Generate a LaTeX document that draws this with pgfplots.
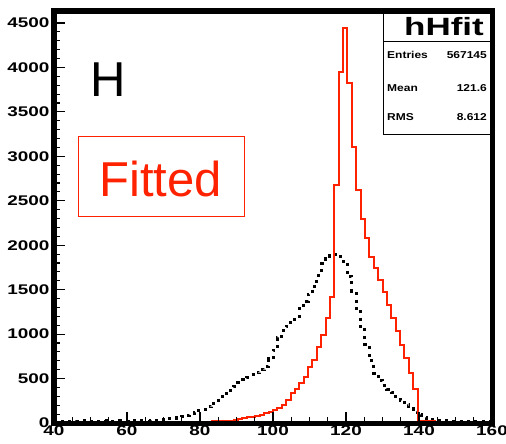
\documentclass[border=0pt]{standalone}
\usepackage{pgfplots}
\pgfplotsset{compat=1.18}
\usepackage{pgfplotstable}
\usepackage{fontspec}
\setmainfont{Liberation Sans}
\newfontfamily\rootfont[FakeStretch=1.35]{Liberation Sans}
\newfontfamily\statfont[FakeStretch=1.2]{Liberation Sans}
\newfontfamily\titlefont[FakeStretch=1.4]{Liberation Sans}
\definecolor{fitred}{RGB}{255,34,0}

% bin left edges (100 bins, 40-160), last row closes the histogram
\pgfplotstableread{
x red black
40.0 10 18
41.2 12 20
42.4 9 22
43.6 11 19
44.8 13 21
46.0 10 20
47.2 12 23
48.4 11 19
49.6 9 22
50.8 12 21
52.0 10 20
53.2 13 22
54.4 11 24
55.6 12 21
56.8 10 20
58.0 14 23
59.2 11 22
60.4 12 21
61.6 13 24
62.8 11 22
64.0 12 23
65.2 14 22
66.4 12 24
67.6 13 27
68.8 11 32
70.0 14 38
71.2 13 48
72.4 12 55
73.6 15 64
74.8 13 74
76.0 14 88
77.2 13 102
78.4 15 122
79.6 14 138
80.8 16 150
82.0 15 180
83.2 17 222
84.4 19 258
85.6 21 295
86.8 24 332
88.0 28 370
89.2 35 412
90.4 42 450
91.6 52 485
92.8 62 515
94.0 70 540
95.2 82 565
96.4 95 600
97.6 109 635
98.8 125 720
100.0 146 820
101.2 170 960
102.4 202 1040
103.6 260 1090
104.8 337 1130
106.0 380 1200
107.2 450 1285
108.4 520 1370
109.6 630 1450
110.8 710 1535
112.0 850 1660
113.2 990 1790
114.4 1180 1845
115.6 1420 1885
116.8 2680 1895
118.0 3950 1875
119.2 4440 1780
120.4 3820 1650
121.6 3108 1480
122.8 2620 1270
124.0 2300 1080
125.2 2080 880
126.4 1870 700
127.6 1740 560
128.8 1610 480
130.0 1470 420
131.2 1330 380
132.4 1180 345
133.6 1030 300
134.8 880 250
136.0 730 205
137.2 560 165
138.4 380 130
139.6 25 90
140.8 20 65
142.0 18 48
143.2 18 38
144.4 16 32
145.6 15 28
146.8 15 25
148.0 14 22
149.2 13 22
150.4 14 20
151.6 12 20
152.8 13 18
154.0 12 18
155.2 11 16
156.4 12 16
157.6 10 15
158.8 11 15
160.0 11 15
}\hdata

\begin{document}
\begin{tikzpicture}
\begin{axis}[
  scale only axis, width=438bp, height=412bp,
  xmin=40, xmax=160, ymin=0, ymax=4635,
  axis on top,
  tick align=inside, tick pos=left,
  xtick={40,60,...,160}, minor x tick num=3,
  ytick={0,500,...,4500}, minor y tick num=4,
  major tick length=11bp, minor tick length=6bp,
  tick style={line width=1.2bp, black},
  axis line style={line width=4bp},
  every outer x axis line/.append style={line width=4bp},
  every outer y axis line/.append style={line width=4bp},
  scaled y ticks=false,
  /pgf/number format/1000 sep={},
  /pgf/number format/assume math mode=true,
  ticklabel style={font=\rootfont\bfseries\fontsize{14bp}{14bp}\selectfont, inner sep=0pt},
  xticklabel style={anchor=north, yshift=-2.5bp},
  yticklabel style={anchor=east, xshift=-4.5bp},
]
\addplot[black, line width=3bp, line cap=butt, dash pattern=on 3bp off 4.5bp, const plot mark left] table[x=x, y=black] {\hdata};
\addplot[fitred, line width=2bp, const plot mark left] table[x=x, y=red] {\hdata};
\end{axis}

\node[anchor=base west, inner sep=0, font=\fontsize{49bp}{49bp}\selectfont] at (36bp,326bp) {H};
\draw[fitred, line width=1bp] (24bp,206bp) rectangle (190bp,286bp);
\node[anchor=base west, inner sep=0, text=fitred, font=\fontsize{49bp}{49bp}\selectfont] at (45bp,226bp) {Fitted};

% stats box
\draw[line width=1bp, fill=white] (329bp,288bp) rectangle (438bp,410bp);
\draw[line width=1bp] (329bp,381bp) -- (438bp,381bp);
\node[anchor=base, inner sep=0, font=\titlefont\bfseries\fontsize{25bp}{25bp}\selectfont] at (390bp,387bp) {hHfit};
\begin{scope}[every node/.style={inner sep=0, font=\statfont\bfseries\fontsize{10bp}{10bp}\selectfont}]
\node[anchor=base west] at (333bp,364bp) {Entries};
\node[anchor=base east] at (433bp,364bp) {567145};
\node[anchor=base west] at (333bp,331bp) {Mean};
\node[anchor=base east] at (433bp,331bp) {121.6};
\node[anchor=base west] at (333bp,302bp) {RMS};
\node[anchor=base east] at (433bp,302bp) {8.612};
\end{scope}

% heavy frame
\filldraw[black] (-2.5bp,-2.5bp) rectangle (2bp,414.5bp);
\filldraw[black] (-2.5bp,-2.5bp) rectangle (440.5bp,2bp);
\filldraw[black] (436bp,-2.5bp) rectangle (440.5bp,414.5bp);
\filldraw[black] (-2.5bp,410bp) rectangle (440.5bp,414.5bp);

\pgfresetboundingbox
\path (-54bp,-21bp) rectangle (452bp,423bp);
\end{tikzpicture}
\end{document}
